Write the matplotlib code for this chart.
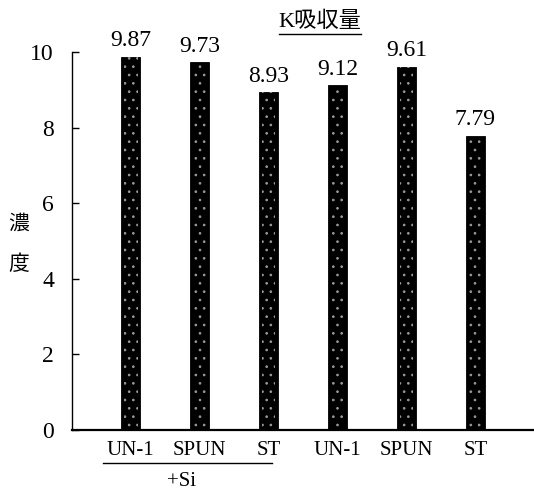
import numpy as np
import matplotlib
matplotlib.use("Agg")
import matplotlib.pyplot as plt
from matplotlib.lines import Line2D
import matplotlib.transforms as mtransforms

# K uptake (concentration) per treatment
categories = ["UN-1", "SPUN", "ST", "UN-1", "SPUN", "ST"]
values = [9.87, 9.73, 8.93, 9.12, 9.61, 7.79]
title = "K吸収量"
ylabel = "濃\n度"
group_label = "+Si"

serif = ["Liberation Serif", "Noto Sans CJK JP"]
cjk = ["Noto Sans CJK JP", "DejaVu Sans"]

fig = plt.figure(figsize=(5.34, 4.94), dpi=100)
ax = fig.add_axes([72 / 534, 1 - 430 / 494, 1 - 72 / 534, (430 - 52) / 494])

x = np.arange(len(values))
ax.bar(x, values, width=0.27, color="black", edgecolor="black", linewidth=0.6)
# speckled texture on the bars
plt.rcParams["hatch.linewidth"] = 0.7
ax.bar(x, values, width=0.2, color="none", edgecolor="#9a9a9a", linewidth=0,
       hatch="..")

for xi, v in zip(x, values):
    ax.annotate(f"{v:.2f}", (xi, v), xytext=(0, 4), textcoords="offset points",
                ha="center", va="bottom", fontsize=17, family=serif)

ax.set_xlim(-0.85, 5.85)
ax.set_ylim(0, 10)
ax.set_yticks([0, 2, 4, 6, 8, 10])
ax.set_xticks(x)
ax.set_xticklabels(categories, family=serif, fontsize=15)
for lab in ax.get_yticklabels():
    lab.set_family(serif)
    lab.set_fontsize(17)
ax.tick_params(axis="y", direction="in", length=5, width=1, pad=13)
ax.tick_params(axis="x", length=0, pad=8)
ax.spines["top"].set_visible(False)
ax.spines["right"].set_visible(False)
ax.spines["left"].set_linewidth(1)
ax.spines["bottom"].set_linewidth(1.6)

# y label written vertically, character by character
fig.text(19 / 534, 1 - 244 / 494, ylabel, ha="center", va="center",
         fontsize=15, family=cjk, linespacing=2.1)

# underlined title
t = fig.text(320 / 534, 1 - 22 / 494, title, ha="center", va="center",
             fontsize=16, family=serif)
fig.canvas.draw()
bb = t.get_window_extent().transformed(fig.transFigure.inverted())
fig.add_artist(Line2D([bb.x0, bb.x1], [bb.y0 - 0.003, bb.y0 - 0.003],
                      color="black", lw=1))

# "+Si" group bracket under the first three bars
trans = mtransforms.blended_transform_factory(ax.transData, ax.transAxes)
ax.plot([-0.40, 2.05], [-0.087, -0.087], color="black", lw=1,
        transform=trans, clip_on=False)
ax.text(0.74, -0.135, group_label, transform=trans, ha="center", va="center",
        fontsize=15, family=serif)

fig.savefig("out.png", dpi=100)
